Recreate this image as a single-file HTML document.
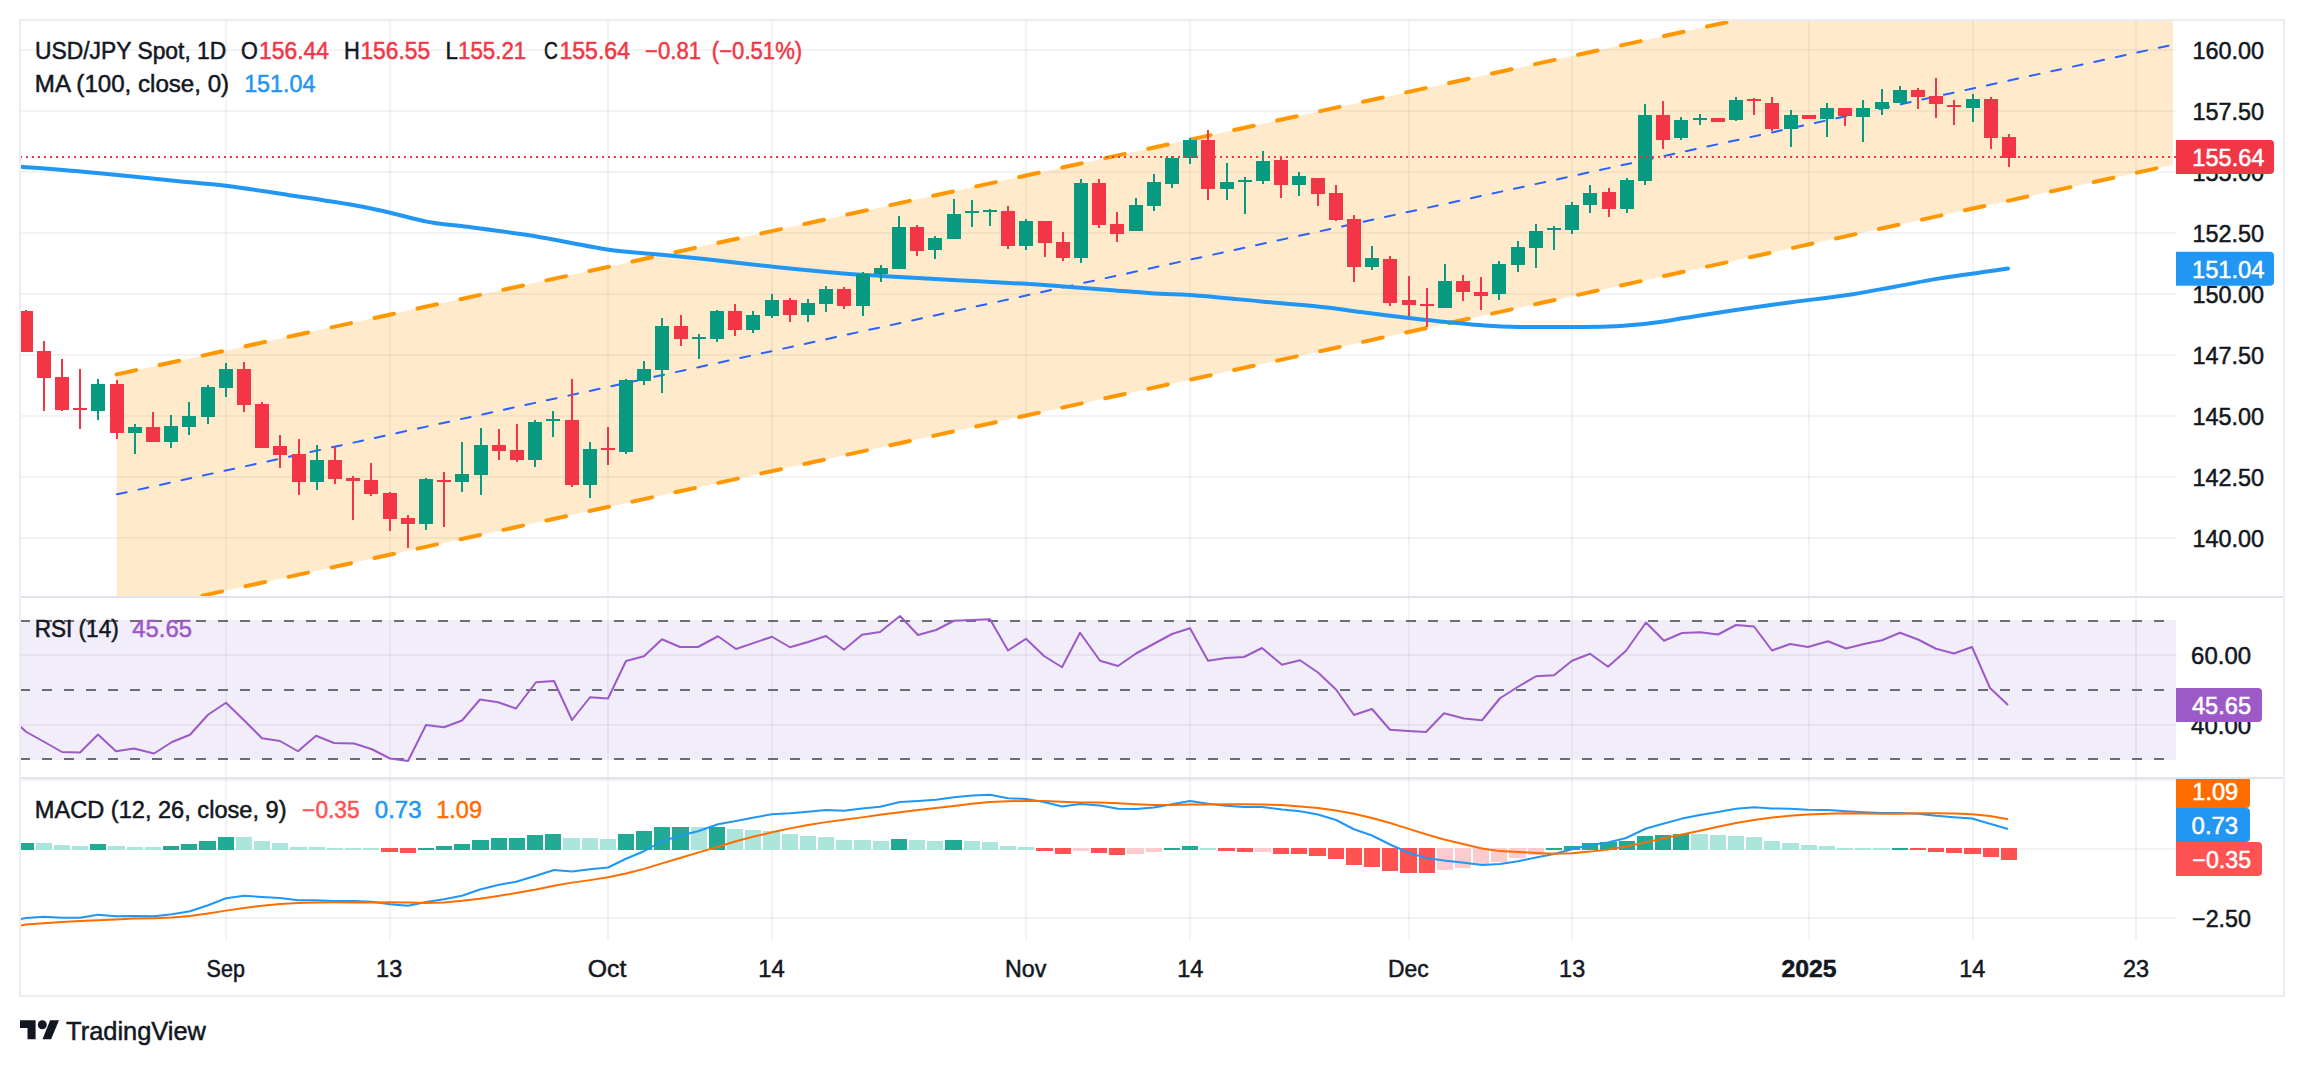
<!DOCTYPE html>
<html lang="en"><head><meta charset="utf-8"><title>USD/JPY Spot, 1D</title>
<style>html,body{margin:0;padding:0;background:#fff}body{width:2304px;height:1066px;overflow:hidden}svg{display:block}text{font-family:"Liberation Sans", sans-serif;white-space:pre}</style>
</head><body>
<svg width="2304" height="1066" viewBox="0 0 2304 1066">
<defs>
<clipPath id="cm"><rect x="21" y="21" width="2155" height="575"/></clipPath>
<clipPath id="cr"><rect x="21" y="598" width="2155" height="179"/></clipPath>
<clipPath id="cc"><rect x="21" y="779" width="2155" height="161"/></clipPath>
<clipPath id="ca"><rect x="2176" y="779" width="107" height="161"/></clipPath>
</defs>
<rect width="2304" height="1066" fill="#fff"/>
<g fill="#2A2E39" fill-opacity="0.06" shape-rendering="crispEdges">
<rect x="225" y="21" width="2" height="919"/>
<rect x="389" y="21" width="2" height="919"/>
<rect x="607" y="21" width="2" height="919"/>
<rect x="771" y="21" width="2" height="919"/>
<rect x="1025" y="21" width="2" height="919"/>
<rect x="1189" y="21" width="2" height="919"/>
<rect x="1408" y="21" width="2" height="919"/>
<rect x="1571" y="21" width="2" height="919"/>
<rect x="1808" y="21" width="2" height="919"/>
<rect x="1972" y="21" width="2" height="919"/>
<rect x="2135" y="21" width="2" height="919"/>
<rect x="21" y="49" width="2155" height="2"/>
<rect x="21" y="110" width="2155" height="2"/>
<rect x="21" y="171" width="2155" height="2"/>
<rect x="21" y="232" width="2155" height="2"/>
<rect x="21" y="293" width="2155" height="2"/>
<rect x="21" y="354" width="2155" height="2"/>
<rect x="21" y="415" width="2155" height="2"/>
<rect x="21" y="476" width="2155" height="2"/>
<rect x="21" y="537" width="2155" height="2"/>
<rect x="21" y="654" width="2155" height="2"/>
<rect x="21" y="724" width="2155" height="2"/>
<rect x="21" y="779" width="2155" height="2"/>
<rect x="21" y="848" width="2155" height="2"/>
<rect x="21" y="917" width="2155" height="2"/>
</g>
<g clip-path="url(#cm)">
<polygon points="116.6,374.38 2173,-75.35 2173,164.73 116.6,614.46" fill="#FF9800" fill-opacity="0.2"/>
<g stroke="#FF9800" stroke-width="4" stroke-linecap="round" stroke-dasharray="20 24" fill="none">
<line x1="116.6" y1="374.38" x2="2173" y2="-75.35"/>
<line x1="116.6" y1="614.46" x2="2173" y2="164.73"/>
</g>
<line x1="117" y1="494.33" x2="2170" y2="45.34" stroke="#2962FF" stroke-width="2" stroke-linecap="round" stroke-dasharray="10 12"/>
<path fill="none" stroke="#2196F3" stroke-width="4" stroke-linejoin="round" stroke-linecap="round" d="M20.4,166.7 C33.13,167.75 69.6,170.5 96.8,173 C124,175.5 162.07,179.57 183.6,181.7 C205.13,183.83 208.63,183.6 226,185.8 C243.37,188 264.2,191.25 287.8,194.9 C311.4,198.55 344.45,203.25 367.6,207.7 C390.75,212.15 411.07,218.53 426.7,221.6 C442.33,224.67 444.05,223.78 461.4,226.1 C478.75,228.42 506.5,231.62 530.8,235.5 C555.1,239.38 586.93,246.33 607.2,249.4 C627.47,252.47 636.2,252.28 652.4,253.9 C668.6,255.52 683.13,256.82 704.4,259.1 C725.67,261.38 756.85,265.22 780,267.6 C803.15,269.98 826.42,272.02 843.3,273.4 C860.18,274.78 862.3,274.77 881.3,275.9 C900.3,277.03 933.23,278.88 957.3,280.2 C981.37,281.52 1007.97,282.73 1025.7,283.8 C1043.43,284.87 1049.77,285.58 1063.7,286.6 C1077.63,287.62 1093.25,288.7 1109.3,289.9 C1125.35,291.1 1146.48,292.93 1160,293.8 C1173.52,294.67 1173.52,293.83 1190.4,295.1 C1207.28,296.37 1238.92,299.38 1261.3,301.4 C1283.68,303.42 1307.8,305.38 1324.7,307.2 C1341.6,309.02 1347.93,310.43 1362.7,312.3 C1377.47,314.17 1398.53,316.72 1413.3,318.4 C1428.07,320.08 1439.47,321.22 1451.3,322.4 C1463.13,323.58 1472.9,324.73 1484.3,325.5 C1495.7,326.27 1507.08,326.75 1519.7,327 C1532.32,327.25 1545.22,327.08 1560,327 C1574.78,326.92 1594.85,326.97 1608.4,326.5 C1621.95,326.03 1631.58,325.13 1641.3,324.2 C1651.02,323.27 1657.42,322.28 1666.7,320.9 C1675.98,319.52 1684.33,317.88 1697,315.9 C1709.67,313.92 1726.65,311.33 1742.7,309 C1758.75,306.67 1776.42,304.13 1793.3,301.9 C1810.18,299.67 1827.1,298.13 1844,295.6 C1860.9,293.07 1878.7,289.57 1894.7,286.7 C1910.7,283.83 1921.12,281.42 1940,278.4 C1958.88,275.38 1996.67,270.23 2008,268.6"/>
<g shape-rendering="crispEdges">
<rect x="25" y="310" width="2" height="42" fill="#F23645"/>
<rect x="19" y="311" width="14" height="41" fill="#F23645"/>
<rect x="43" y="341" width="2" height="70" fill="#F23645"/>
<rect x="37" y="351" width="14" height="27" fill="#F23645"/>
<rect x="61" y="359" width="2" height="52" fill="#F23645"/>
<rect x="55" y="377" width="14" height="33" fill="#F23645"/>
<rect x="79" y="369" width="2" height="60" fill="#F23645"/>
<rect x="73" y="408" width="14" height="2" fill="#F23645"/>
<rect x="97" y="379" width="2" height="41" fill="#089981"/>
<rect x="91" y="384" width="14" height="27" fill="#089981"/>
<rect x="116" y="380" width="2" height="59" fill="#F23645"/>
<rect x="110" y="384" width="14" height="49" fill="#F23645"/>
<rect x="134" y="424" width="2" height="30" fill="#089981"/>
<rect x="128" y="427" width="14" height="6" fill="#089981"/>
<rect x="152" y="412" width="2" height="30" fill="#F23645"/>
<rect x="146" y="427" width="14" height="15" fill="#F23645"/>
<rect x="170" y="415" width="2" height="33" fill="#089981"/>
<rect x="164" y="426" width="14" height="16" fill="#089981"/>
<rect x="188" y="402" width="2" height="33" fill="#089981"/>
<rect x="182" y="416" width="14" height="11" fill="#089981"/>
<rect x="207" y="385" width="2" height="39" fill="#089981"/>
<rect x="201" y="387" width="14" height="30" fill="#089981"/>
<rect x="225" y="363" width="2" height="34" fill="#089981"/>
<rect x="219" y="369" width="14" height="19" fill="#089981"/>
<rect x="243" y="362" width="2" height="50" fill="#F23645"/>
<rect x="237" y="369" width="14" height="36" fill="#F23645"/>
<rect x="261" y="402" width="2" height="46" fill="#F23645"/>
<rect x="255" y="404" width="14" height="44" fill="#F23645"/>
<rect x="279" y="435" width="2" height="33" fill="#F23645"/>
<rect x="273" y="446" width="14" height="9" fill="#F23645"/>
<rect x="298" y="439" width="2" height="56" fill="#F23645"/>
<rect x="292" y="454" width="14" height="28" fill="#F23645"/>
<rect x="316" y="445" width="2" height="45" fill="#089981"/>
<rect x="310" y="460" width="14" height="22" fill="#089981"/>
<rect x="334" y="447" width="2" height="37" fill="#F23645"/>
<rect x="328" y="460" width="14" height="19" fill="#F23645"/>
<rect x="352" y="476" width="2" height="44" fill="#F23645"/>
<rect x="346" y="478" width="14" height="3" fill="#F23645"/>
<rect x="370" y="463" width="2" height="33" fill="#F23645"/>
<rect x="364" y="480" width="14" height="14" fill="#F23645"/>
<rect x="389" y="492" width="2" height="39" fill="#F23645"/>
<rect x="383" y="493" width="14" height="26" fill="#F23645"/>
<rect x="407" y="515" width="2" height="33" fill="#F23645"/>
<rect x="401" y="518" width="14" height="6" fill="#F23645"/>
<rect x="425" y="478" width="2" height="52" fill="#089981"/>
<rect x="419" y="479" width="14" height="45" fill="#089981"/>
<rect x="443" y="472" width="2" height="55" fill="#F23645"/>
<rect x="437" y="480" width="14" height="2" fill="#F23645"/>
<rect x="461" y="442" width="2" height="50" fill="#089981"/>
<rect x="455" y="474" width="14" height="8" fill="#089981"/>
<rect x="480" y="428" width="2" height="67" fill="#089981"/>
<rect x="474" y="445" width="14" height="30" fill="#089981"/>
<rect x="498" y="429" width="2" height="31" fill="#F23645"/>
<rect x="492" y="445" width="14" height="6" fill="#F23645"/>
<rect x="516" y="424" width="2" height="38" fill="#F23645"/>
<rect x="510" y="450" width="14" height="10" fill="#F23645"/>
<rect x="534" y="420" width="2" height="47" fill="#089981"/>
<rect x="528" y="422" width="14" height="38" fill="#089981"/>
<rect x="552" y="411" width="2" height="26" fill="#089981"/>
<rect x="546" y="419" width="14" height="2" fill="#089981"/>
<rect x="571" y="379" width="2" height="108" fill="#F23645"/>
<rect x="565" y="420" width="14" height="65" fill="#F23645"/>
<rect x="589" y="442" width="2" height="56" fill="#089981"/>
<rect x="583" y="449" width="14" height="36" fill="#089981"/>
<rect x="607" y="427" width="2" height="38" fill="#F23645"/>
<rect x="601" y="448" width="14" height="2" fill="#F23645"/>
<rect x="625" y="379" width="2" height="75" fill="#089981"/>
<rect x="619" y="380" width="14" height="72" fill="#089981"/>
<rect x="643" y="361" width="2" height="24" fill="#089981"/>
<rect x="637" y="369" width="14" height="12" fill="#089981"/>
<rect x="661" y="318" width="2" height="75" fill="#089981"/>
<rect x="655" y="326" width="14" height="44" fill="#089981"/>
<rect x="680" y="315" width="2" height="31" fill="#F23645"/>
<rect x="674" y="326" width="14" height="13" fill="#F23645"/>
<rect x="698" y="334" width="2" height="25" fill="#089981"/>
<rect x="692" y="337" width="14" height="2" fill="#089981"/>
<rect x="716" y="310" width="2" height="32" fill="#089981"/>
<rect x="710" y="311" width="14" height="28" fill="#089981"/>
<rect x="734" y="304" width="2" height="32" fill="#F23645"/>
<rect x="728" y="311" width="14" height="19" fill="#F23645"/>
<rect x="752" y="311" width="2" height="22" fill="#089981"/>
<rect x="746" y="315" width="14" height="15" fill="#089981"/>
<rect x="771" y="294" width="2" height="24" fill="#089981"/>
<rect x="765" y="300" width="14" height="16" fill="#089981"/>
<rect x="789" y="298" width="2" height="24" fill="#F23645"/>
<rect x="783" y="300" width="14" height="15" fill="#F23645"/>
<rect x="807" y="299" width="2" height="23" fill="#089981"/>
<rect x="801" y="303" width="14" height="12" fill="#089981"/>
<rect x="825" y="286" width="2" height="26" fill="#089981"/>
<rect x="819" y="289" width="14" height="15" fill="#089981"/>
<rect x="843" y="287" width="2" height="22" fill="#F23645"/>
<rect x="837" y="289" width="14" height="17" fill="#F23645"/>
<rect x="862" y="272" width="2" height="44" fill="#089981"/>
<rect x="856" y="274" width="14" height="32" fill="#089981"/>
<rect x="880" y="265" width="2" height="17" fill="#089981"/>
<rect x="874" y="268" width="14" height="6" fill="#089981"/>
<rect x="898" y="216" width="2" height="53" fill="#089981"/>
<rect x="892" y="227" width="14" height="42" fill="#089981"/>
<rect x="916" y="225" width="2" height="31" fill="#F23645"/>
<rect x="910" y="227" width="14" height="24" fill="#F23645"/>
<rect x="934" y="236" width="2" height="23" fill="#089981"/>
<rect x="928" y="238" width="14" height="12" fill="#089981"/>
<rect x="953" y="199" width="2" height="40" fill="#089981"/>
<rect x="947" y="214" width="14" height="25" fill="#089981"/>
<rect x="971" y="200" width="2" height="27" fill="#089981"/>
<rect x="965" y="211" width="14" height="2" fill="#089981"/>
<rect x="989" y="209" width="2" height="17" fill="#089981"/>
<rect x="983" y="210" width="14" height="2" fill="#089981"/>
<rect x="1007" y="206" width="2" height="43" fill="#F23645"/>
<rect x="1001" y="211" width="14" height="35" fill="#F23645"/>
<rect x="1025" y="219" width="2" height="31" fill="#089981"/>
<rect x="1019" y="221" width="14" height="25" fill="#089981"/>
<rect x="1044" y="221" width="2" height="36" fill="#F23645"/>
<rect x="1038" y="221" width="14" height="22" fill="#F23645"/>
<rect x="1062" y="232" width="2" height="29" fill="#F23645"/>
<rect x="1056" y="242" width="14" height="16" fill="#F23645"/>
<rect x="1080" y="179" width="2" height="84" fill="#089981"/>
<rect x="1074" y="183" width="14" height="75" fill="#089981"/>
<rect x="1098" y="179" width="2" height="49" fill="#F23645"/>
<rect x="1092" y="183" width="14" height="42" fill="#F23645"/>
<rect x="1116" y="212" width="2" height="30" fill="#F23645"/>
<rect x="1110" y="224" width="14" height="10" fill="#F23645"/>
<rect x="1135" y="198" width="2" height="33" fill="#089981"/>
<rect x="1129" y="205" width="14" height="26" fill="#089981"/>
<rect x="1153" y="174" width="2" height="37" fill="#089981"/>
<rect x="1147" y="182" width="14" height="24" fill="#089981"/>
<rect x="1171" y="156" width="2" height="32" fill="#089981"/>
<rect x="1165" y="158" width="14" height="26" fill="#089981"/>
<rect x="1189" y="138" width="2" height="26" fill="#089981"/>
<rect x="1183" y="140" width="14" height="18" fill="#089981"/>
<rect x="1207" y="130" width="2" height="70" fill="#F23645"/>
<rect x="1201" y="140" width="14" height="49" fill="#F23645"/>
<rect x="1226" y="163" width="2" height="37" fill="#089981"/>
<rect x="1220" y="182" width="14" height="7" fill="#089981"/>
<rect x="1244" y="177" width="2" height="37" fill="#089981"/>
<rect x="1238" y="180" width="14" height="2" fill="#089981"/>
<rect x="1262" y="151" width="2" height="33" fill="#089981"/>
<rect x="1256" y="161" width="14" height="20" fill="#089981"/>
<rect x="1280" y="157" width="2" height="41" fill="#F23645"/>
<rect x="1274" y="160" width="14" height="25" fill="#F23645"/>
<rect x="1298" y="172" width="2" height="24" fill="#089981"/>
<rect x="1292" y="176" width="14" height="9" fill="#089981"/>
<rect x="1317" y="178" width="2" height="28" fill="#F23645"/>
<rect x="1311" y="178" width="14" height="16" fill="#F23645"/>
<rect x="1335" y="185" width="2" height="36" fill="#F23645"/>
<rect x="1329" y="193" width="14" height="27" fill="#F23645"/>
<rect x="1353" y="215" width="2" height="67" fill="#F23645"/>
<rect x="1347" y="219" width="14" height="48" fill="#F23645"/>
<rect x="1371" y="246" width="2" height="24" fill="#089981"/>
<rect x="1365" y="258" width="14" height="9" fill="#089981"/>
<rect x="1389" y="256" width="2" height="50" fill="#F23645"/>
<rect x="1383" y="259" width="14" height="44" fill="#F23645"/>
<rect x="1408" y="276" width="2" height="40" fill="#F23645"/>
<rect x="1402" y="300" width="14" height="5" fill="#F23645"/>
<rect x="1426" y="288" width="2" height="39" fill="#F23645"/>
<rect x="1420" y="304" width="14" height="2" fill="#F23645"/>
<rect x="1444" y="264" width="2" height="44" fill="#089981"/>
<rect x="1438" y="281" width="14" height="27" fill="#089981"/>
<rect x="1462" y="275" width="2" height="26" fill="#F23645"/>
<rect x="1456" y="281" width="14" height="11" fill="#F23645"/>
<rect x="1480" y="277" width="2" height="33" fill="#F23645"/>
<rect x="1474" y="292" width="14" height="4" fill="#F23645"/>
<rect x="1498" y="261" width="2" height="39" fill="#089981"/>
<rect x="1492" y="264" width="14" height="30" fill="#089981"/>
<rect x="1517" y="241" width="2" height="31" fill="#089981"/>
<rect x="1511" y="247" width="14" height="18" fill="#089981"/>
<rect x="1535" y="224" width="2" height="44" fill="#089981"/>
<rect x="1529" y="231" width="14" height="17" fill="#089981"/>
<rect x="1553" y="226" width="2" height="24" fill="#089981"/>
<rect x="1547" y="228" width="14" height="2" fill="#089981"/>
<rect x="1571" y="202" width="2" height="32" fill="#089981"/>
<rect x="1565" y="205" width="14" height="25" fill="#089981"/>
<rect x="1589" y="185" width="2" height="28" fill="#089981"/>
<rect x="1583" y="193" width="14" height="12" fill="#089981"/>
<rect x="1608" y="188" width="2" height="29" fill="#F23645"/>
<rect x="1602" y="192" width="14" height="17" fill="#F23645"/>
<rect x="1626" y="178" width="2" height="35" fill="#089981"/>
<rect x="1620" y="180" width="14" height="29" fill="#089981"/>
<rect x="1644" y="104" width="2" height="81" fill="#089981"/>
<rect x="1638" y="115" width="14" height="66" fill="#089981"/>
<rect x="1662" y="101" width="2" height="48" fill="#F23645"/>
<rect x="1656" y="115" width="14" height="25" fill="#F23645"/>
<rect x="1680" y="117" width="2" height="23" fill="#089981"/>
<rect x="1674" y="120" width="14" height="18" fill="#089981"/>
<rect x="1699" y="114" width="2" height="11" fill="#089981"/>
<rect x="1693" y="118" width="14" height="2" fill="#089981"/>
<rect x="1711" y="118" width="14" height="4" fill="#F23645"/>
<rect x="1735" y="97" width="2" height="24" fill="#089981"/>
<rect x="1729" y="100" width="14" height="20" fill="#089981"/>
<rect x="1753" y="98" width="2" height="17" fill="#F23645"/>
<rect x="1747" y="99" width="14" height="2" fill="#F23645"/>
<rect x="1771" y="97" width="2" height="34" fill="#F23645"/>
<rect x="1765" y="103" width="14" height="26" fill="#F23645"/>
<rect x="1790" y="110" width="2" height="37" fill="#089981"/>
<rect x="1784" y="115" width="14" height="14" fill="#089981"/>
<rect x="1802" y="115" width="14" height="4" fill="#F23645"/>
<rect x="1826" y="103" width="2" height="34" fill="#089981"/>
<rect x="1820" y="108" width="14" height="11" fill="#089981"/>
<rect x="1844" y="108" width="2" height="18" fill="#F23645"/>
<rect x="1838" y="108" width="14" height="8" fill="#F23645"/>
<rect x="1862" y="100" width="2" height="42" fill="#089981"/>
<rect x="1856" y="108" width="14" height="9" fill="#089981"/>
<rect x="1881" y="89" width="2" height="26" fill="#089981"/>
<rect x="1875" y="102" width="14" height="7" fill="#089981"/>
<rect x="1899" y="86" width="2" height="17" fill="#089981"/>
<rect x="1893" y="90" width="14" height="13" fill="#089981"/>
<rect x="1917" y="88" width="2" height="21" fill="#F23645"/>
<rect x="1911" y="90" width="14" height="7" fill="#F23645"/>
<rect x="1935" y="78" width="2" height="40" fill="#F23645"/>
<rect x="1929" y="96" width="14" height="8" fill="#F23645"/>
<rect x="1953" y="100" width="2" height="25" fill="#F23645"/>
<rect x="1947" y="105" width="14" height="2" fill="#F23645"/>
<rect x="1972" y="94" width="2" height="28" fill="#089981"/>
<rect x="1966" y="99" width="14" height="9" fill="#089981"/>
<rect x="1990" y="97" width="2" height="52" fill="#F23645"/>
<rect x="1984" y="99" width="14" height="39" fill="#F23645"/>
<rect x="2008" y="134" width="2" height="33" fill="#F23645"/>
<rect x="2002" y="137" width="14" height="21" fill="#F23645"/>
</g>
<line x1="20" y1="157" x2="2176" y2="157" stroke="#F23645" stroke-width="2" stroke-dasharray="2 4" shape-rendering="crispEdges"/>
</g>
<g clip-path="url(#cr)">
<rect x="21" y="620" width="2155" height="140" fill="#7E57C2" fill-opacity="0.1"/>
<g stroke="#6A6D78" stroke-width="2" stroke-dasharray="10 12" shape-rendering="crispEdges">
<line x1="20" y1="621" x2="2164" y2="621"/>
<line x1="20" y1="690" x2="2164" y2="690"/>
<line x1="20" y1="759" x2="2164" y2="759"/>
</g>
<polyline fill="none" stroke="#9C5AC8" stroke-width="2" stroke-linejoin="round" points="20,726.3 26,731.75 44,741.75 62,752 80,752.5 98,734.5 116,751.25 134,748.5 154,753.5 172,742 190,734.75 208,714.75 226,702.75 244,720.25 262,738.25 280,741 298,751.25 316,735.75 334,743 354,743.5 372,749.25 390,758.5 408,761 426,725 444,727.25 462,720.5 480,699.5 498,702.25 516,708.5 536,682.25 554,681 572,720 590,697.25 608,698.5 626,661 644,656.25 662,639.25 680,647 698,647 718,636.25 736,649 754,642.9 772,636.75 790,647.25 808,642 826,636 844,649.75 862,634.75 880,632 900,616 918,635 936,630 954,620.75 972,620 990,619.25 1008,650.5 1026,638.75 1044,656 1062,667.25 1080,632.75 1100,660.75 1118,666 1136,653.5 1154,643.75 1172,634 1190,628.25 1208,660.75 1226,658 1244,657 1262,648 1282,664.75 1300,660.25 1318,672.5 1336,689.5 1354,715 1372,709 1390,729.75 1408,731 1426,732 1444,713.25 1464,718.5 1482,720.25 1500,698.25 1518,686.75 1536,676.25 1554,675.25 1572,660.75 1590,653.75 1608,666.75 1626,650.75 1646,622.5 1664,640.75 1682,633 1700,632.25 1718,634.5 1736,625 1754,626.5 1772,650.5 1790,644 1808,647 1828,641.25 1846,648.5 1864,644 1882,640.25 1900,632.75 1918,639.5 1936,648.75 1954,653.5 1972,647 1990,688 2008,705"/>
</g>
<g clip-path="url(#cc)">
<g shape-rendering="crispEdges">
<rect x="18" y="843" width="16" height="7" fill="#22AB94"/>
<rect x="36" y="843" width="16" height="7" fill="#ACE5DC"/>
<rect x="54" y="845" width="16" height="5" fill="#ACE5DC"/>
<rect x="72" y="846" width="16" height="4" fill="#ACE5DC"/>
<rect x="90" y="844" width="16" height="6" fill="#22AB94"/>
<rect x="108" y="846" width="17" height="4" fill="#ACE5DC"/>
<rect x="127" y="847" width="16" height="3" fill="#ACE5DC"/>
<rect x="145" y="847" width="16" height="3" fill="#ACE5DC"/>
<rect x="163" y="846" width="16" height="4" fill="#22AB94"/>
<rect x="181" y="844" width="16" height="6" fill="#22AB94"/>
<rect x="199" y="841" width="17" height="9" fill="#22AB94"/>
<rect x="218" y="837" width="16" height="13" fill="#22AB94"/>
<rect x="236" y="837" width="16" height="13" fill="#ACE5DC"/>
<rect x="254" y="841" width="16" height="9" fill="#ACE5DC"/>
<rect x="272" y="843" width="16" height="7" fill="#ACE5DC"/>
<rect x="290" y="847" width="17" height="3" fill="#ACE5DC"/>
<rect x="309" y="847" width="16" height="3" fill="#ACE5DC"/>
<rect x="327" y="848" width="16" height="2" fill="#ACE5DC"/>
<rect x="345" y="848" width="16" height="2" fill="#ACE5DC"/>
<rect x="363" y="848" width="16" height="2" fill="#ACE5DC"/>
<rect x="381" y="848" width="17" height="4" fill="#FF5252"/>
<rect x="400" y="848" width="16" height="5" fill="#FF5252"/>
<rect x="418" y="848" width="16" height="2" fill="#22AB94"/>
<rect x="436" y="846" width="16" height="4" fill="#22AB94"/>
<rect x="454" y="844" width="16" height="6" fill="#22AB94"/>
<rect x="472" y="840" width="17" height="10" fill="#22AB94"/>
<rect x="491" y="838" width="16" height="12" fill="#22AB94"/>
<rect x="509" y="838" width="16" height="12" fill="#22AB94"/>
<rect x="527" y="835" width="16" height="15" fill="#22AB94"/>
<rect x="545" y="834" width="16" height="16" fill="#22AB94"/>
<rect x="563" y="838" width="17" height="12" fill="#ACE5DC"/>
<rect x="582" y="838" width="16" height="12" fill="#ACE5DC"/>
<rect x="600" y="839" width="16" height="11" fill="#ACE5DC"/>
<rect x="618" y="834" width="16" height="16" fill="#22AB94"/>
<rect x="636" y="831" width="16" height="19" fill="#22AB94"/>
<rect x="654" y="827" width="16" height="23" fill="#22AB94"/>
<rect x="672" y="827" width="17" height="23" fill="#22AB94"/>
<rect x="691" y="827" width="16" height="23" fill="#ACE5DC"/>
<rect x="709" y="827" width="16" height="23" fill="#22AB94"/>
<rect x="727" y="829" width="16" height="21" fill="#ACE5DC"/>
<rect x="745" y="830" width="16" height="20" fill="#ACE5DC"/>
<rect x="763" y="831" width="17" height="19" fill="#ACE5DC"/>
<rect x="782" y="834" width="16" height="16" fill="#ACE5DC"/>
<rect x="800" y="836" width="16" height="14" fill="#ACE5DC"/>
<rect x="818" y="837" width="16" height="13" fill="#ACE5DC"/>
<rect x="836" y="840" width="16" height="10" fill="#ACE5DC"/>
<rect x="854" y="840" width="17" height="10" fill="#ACE5DC"/>
<rect x="873" y="841" width="16" height="9" fill="#ACE5DC"/>
<rect x="891" y="839" width="16" height="11" fill="#22AB94"/>
<rect x="909" y="840" width="16" height="10" fill="#ACE5DC"/>
<rect x="927" y="841" width="16" height="9" fill="#ACE5DC"/>
<rect x="945" y="840" width="17" height="10" fill="#22AB94"/>
<rect x="964" y="841" width="16" height="9" fill="#ACE5DC"/>
<rect x="982" y="842" width="16" height="8" fill="#ACE5DC"/>
<rect x="1000" y="846" width="16" height="4" fill="#ACE5DC"/>
<rect x="1018" y="847" width="16" height="3" fill="#ACE5DC"/>
<rect x="1036" y="848" width="17" height="3" fill="#FF5252"/>
<rect x="1055" y="848" width="16" height="6" fill="#FF5252"/>
<rect x="1073" y="848" width="16" height="3" fill="#FCCBCD"/>
<rect x="1091" y="848" width="16" height="5" fill="#FF5252"/>
<rect x="1109" y="848" width="16" height="7" fill="#FF5252"/>
<rect x="1127" y="848" width="17" height="6" fill="#FCCBCD"/>
<rect x="1146" y="848" width="16" height="4" fill="#FCCBCD"/>
<rect x="1164" y="848" width="16" height="2" fill="#22AB94"/>
<rect x="1182" y="846" width="16" height="4" fill="#22AB94"/>
<rect x="1200" y="848" width="16" height="2" fill="#ACE5DC"/>
<rect x="1218" y="848" width="17" height="3" fill="#FF5252"/>
<rect x="1237" y="848" width="16" height="4" fill="#FF5252"/>
<rect x="1255" y="848" width="16" height="4" fill="#FCCBCD"/>
<rect x="1273" y="848" width="16" height="6" fill="#FF5252"/>
<rect x="1291" y="848" width="16" height="6" fill="#FF5252"/>
<rect x="1309" y="848" width="17" height="8" fill="#FF5252"/>
<rect x="1328" y="848" width="16" height="11" fill="#FF5252"/>
<rect x="1346" y="848" width="16" height="17" fill="#FF5252"/>
<rect x="1364" y="848" width="16" height="19" fill="#FF5252"/>
<rect x="1382" y="848" width="16" height="23" fill="#FF5252"/>
<rect x="1400" y="848" width="17" height="25" fill="#FF5252"/>
<rect x="1419" y="848" width="16" height="25" fill="#FF5252"/>
<rect x="1437" y="848" width="16" height="22" fill="#FCCBCD"/>
<rect x="1455" y="848" width="16" height="20" fill="#FCCBCD"/>
<rect x="1473" y="848" width="16" height="17" fill="#FCCBCD"/>
<rect x="1491" y="848" width="16" height="14" fill="#FCCBCD"/>
<rect x="1509" y="848" width="17" height="10" fill="#FCCBCD"/>
<rect x="1528" y="848" width="16" height="7" fill="#FCCBCD"/>
<rect x="1546" y="848" width="16" height="2" fill="#22AB94"/>
<rect x="1564" y="846" width="16" height="4" fill="#22AB94"/>
<rect x="1582" y="843" width="16" height="7" fill="#22AB94"/>
<rect x="1600" y="842" width="17" height="8" fill="#22AB94"/>
<rect x="1619" y="841" width="16" height="9" fill="#22AB94"/>
<rect x="1637" y="836" width="16" height="14" fill="#22AB94"/>
<rect x="1655" y="835" width="16" height="15" fill="#22AB94"/>
<rect x="1673" y="834" width="16" height="16" fill="#22AB94"/>
<rect x="1691" y="834" width="17" height="16" fill="#ACE5DC"/>
<rect x="1710" y="835" width="16" height="15" fill="#ACE5DC"/>
<rect x="1728" y="836" width="16" height="14" fill="#ACE5DC"/>
<rect x="1746" y="837" width="16" height="13" fill="#ACE5DC"/>
<rect x="1764" y="841" width="16" height="9" fill="#ACE5DC"/>
<rect x="1782" y="843" width="17" height="7" fill="#ACE5DC"/>
<rect x="1801" y="845" width="16" height="5" fill="#ACE5DC"/>
<rect x="1819" y="846" width="16" height="4" fill="#ACE5DC"/>
<rect x="1837" y="848" width="16" height="2" fill="#ACE5DC"/>
<rect x="1855" y="848" width="16" height="2" fill="#ACE5DC"/>
<rect x="1873" y="848" width="17" height="2" fill="#ACE5DC"/>
<rect x="1892" y="848" width="16" height="2" fill="#22AB94"/>
<rect x="1910" y="848" width="16" height="2" fill="#FF5252"/>
<rect x="1928" y="848" width="16" height="4" fill="#FF5252"/>
<rect x="1946" y="848" width="16" height="5" fill="#FF5252"/>
<rect x="1964" y="848" width="17" height="6" fill="#FF5252"/>
<rect x="1983" y="848" width="16" height="9" fill="#FF5252"/>
<rect x="2001" y="848" width="16" height="12" fill="#FF5252"/>
</g>
<polyline fill="none" stroke="#2196F3" stroke-width="2" stroke-linejoin="round" points="20,919.25 26,918 44,916.75 62,917.75 80,917.75 98,914.75 116,916.25 134,916 154,916.25 172,914.25 190,911.25 208,905.25 226,898.25 244,895.75 262,897 280,898 298,900.25 316,900.25 334,901 354,901 372,901.75 390,904.25 408,905.75 426,902 444,899.25 462,895.75 480,889.5 498,885 516,881.75 536,875.75 554,870 572,871.5 590,869.25 608,867.5 626,858.75 644,851.25 662,841.25 680,835.75 698,831.25 718,824.25 736,821 754,817.5 772,814.25 790,813.25 808,811.75 826,810 844,810.75 862,808.5 880,806.75 900,802 918,801 936,799.75 954,797.25 972,795.5 990,794.75 1008,798.25 1026,799 1044,802 1062,806.5 1080,804 1100,805.5 1118,808.75 1136,808.9 1154,807.5 1172,804.25 1190,801 1208,803.75 1226,805.75 1244,807 1262,807 1282,809.5 1300,811.25 1318,814.5 1336,820 1354,829.25 1372,835.5 1390,844.5 1408,852.5 1426,858 1444,860.5 1464,862.75 1482,865 1500,864 1518,861.25 1536,857.5 1554,854 1572,849.25 1590,845 1608,842.5 1626,838 1646,828.5 1664,823.5 1682,818.6 1700,815 1718,812 1736,808.75 1754,807.25 1772,808.5 1790,808.75 1808,809.75 1828,810 1846,811.25 1864,812.25 1882,813 1900,813 1918,813.75 1936,815.75 1954,817.25 1972,818.5 1990,823.75 2008,829"/>
<polyline fill="none" stroke="#FF6D00" stroke-width="2" stroke-linejoin="round" points="20,925.75 26,924.5 44,923.25 62,922.06 80,921.06 98,920.25 116,919.38 134,918.62 154,918.19 172,917.5 190,916 208,913.5 226,910.62 244,907.94 262,905.69 280,904.06 298,902.94 316,902.44 334,902.31 354,902.44 372,902.5 390,902.25 408,902.56 426,903 444,902.38 462,900.81 480,898.69 498,896.06 516,893.06 536,889.56 554,885.75 572,882.62 590,880.12 608,877.25 626,873.56 644,868.88 662,863.38 680,858 698,852.62 718,846.69 736,841.19 754,836.56 772,832.31 790,828.38 808,824.94 826,822.12 844,819.75 862,817.38 880,814.75 900,812.19 918,809.94 936,807.94 954,805.94 972,803.75 990,802.06 1008,801.31 1026,800.94 1044,801 1062,801.81 1080,802.44 1100,802.56 1118,803.16 1136,804.2 1154,805.04 1172,805.12 1190,804.62 1208,804.38 1226,804.25 1244,804.25 1262,804.5 1282,805.12 1300,806.38 1318,808.06 1336,810.44 1354,813.75 1372,817.94 1390,823 1408,828.62 1426,834.25 1444,839.44 1464,844.31 1482,848.56 1500,851.12 1518,852.06 1536,852.88 1554,853.75 1572,853.19 1590,851.62 1608,849.62 1626,846.44 1646,842.38 1664,838.27 1682,834.42 1700,830.65 1718,826.69 1736,822.94 1754,819.94 1772,817.5 1790,815.69 1808,814.56 1828,813.75 1846,813.25 1864,813.38 1882,813.81 1900,813.75 1918,813.31 1936,813.31 1954,813.62 1972,814.31 1990,816 2008,819.3"/>
</g>
<text x="35.07" y="58.8" font-size="23.3" fill="#131722" stroke="#131722" stroke-width="0.5" textLength="191.22" lengthAdjust="spacingAndGlyphs">USD/JPY Spot, 1D</text>
<text x="240.98" y="58.8" font-size="23.3" fill="#131722" stroke="#131722" stroke-width="0.5" textLength="16.82" lengthAdjust="spacingAndGlyphs">O</text>
<text x="259.12" y="58.8" font-size="23.3" fill="#F23645" stroke="#F23645" stroke-width="0.5" textLength="69.96" lengthAdjust="spacingAndGlyphs">156.44</text>
<text x="343.97" y="58.8" font-size="23.3" fill="#131722" stroke="#131722" stroke-width="0.5" textLength="15.79" lengthAdjust="spacingAndGlyphs">H</text>
<text x="360.4" y="58.8" font-size="23.3" fill="#F23645" stroke="#F23645" stroke-width="0.5" textLength="69.87" lengthAdjust="spacingAndGlyphs">156.55</text>
<text x="445.44" y="58.8" font-size="23.3" fill="#131722" stroke="#131722" stroke-width="0.5" textLength="12.38" lengthAdjust="spacingAndGlyphs">L</text>
<text x="458.06" y="58.8" font-size="23.3" fill="#F23645" stroke="#F23645" stroke-width="0.5" textLength="68.15" lengthAdjust="spacingAndGlyphs">155.21</text>
<text x="543.99" y="58.8" font-size="23.3" fill="#131722" stroke="#131722" stroke-width="0.5" textLength="13.88" lengthAdjust="spacingAndGlyphs">C</text>
<text x="559.43" y="58.8" font-size="23.3" fill="#F23645" stroke="#F23645" stroke-width="0.5" textLength="70.62" lengthAdjust="spacingAndGlyphs">155.64</text>
<text x="645.04" y="58.8" font-size="23.3" fill="#F23645" stroke="#F23645" stroke-width="0.5" textLength="56.01" lengthAdjust="spacingAndGlyphs">−0.81</text>
<text x="711.87" y="58.8" font-size="23.3" fill="#F23645" stroke="#F23645" stroke-width="0.5" textLength="90.29" lengthAdjust="spacingAndGlyphs">(−0.51%)</text>
<text x="34.83" y="92.3" font-size="23.3" fill="#131722" stroke="#131722" stroke-width="0.5" textLength="194.3" lengthAdjust="spacingAndGlyphs">MA (100, close, 0)</text>
<text x="244.13" y="92.3" font-size="23.3" fill="#2196F3" stroke="#2196F3" stroke-width="0.5" textLength="71.28" lengthAdjust="spacingAndGlyphs">151.04</text>
<text x="34.73" y="636.8" font-size="23.3" fill="#131722" stroke="#131722" stroke-width="0.5" textLength="83.98" lengthAdjust="spacingAndGlyphs">RSI (14)</text>
<text x="132.28" y="636.8" font-size="23.3" fill="#9C5AC8" stroke="#9C5AC8" stroke-width="0.5" textLength="59.66" lengthAdjust="spacingAndGlyphs">45.65</text>
<text x="34.74" y="817.5" font-size="23.3" fill="#131722" stroke="#131722" stroke-width="0.5" textLength="251.81" lengthAdjust="spacingAndGlyphs">MACD (12, 26, close, 9)</text>
<text x="302.1" y="817.5" font-size="23.3" fill="#FF5252" stroke="#FF5252" stroke-width="0.5" textLength="57.56" lengthAdjust="spacingAndGlyphs">−0.35</text>
<text x="374.78" y="817.5" font-size="23.3" fill="#2196F3" stroke="#2196F3" stroke-width="0.5" textLength="46.82" lengthAdjust="spacingAndGlyphs">0.73</text>
<text x="436.17" y="817.5" font-size="23.3" fill="#FF6D00" stroke="#FF6D00" stroke-width="0.5" textLength="45.92" lengthAdjust="spacingAndGlyphs">1.09</text>
<g fill="#e0e3eb" shape-rendering="crispEdges">
<rect x="21" y="596" width="2262" height="2"/>
<rect x="21" y="777" width="2262" height="2"/>
</g>
<rect x="20" y="20" width="2264" height="976" fill="none" stroke="#ebedf2" stroke-width="2"/>
<text x="206.62" y="976.6" font-size="23.3" fill="#131722" stroke="#131722" stroke-width="0.5" textLength="38.25" lengthAdjust="spacingAndGlyphs">Sep</text>
<text x="376.14" y="976.6" font-size="23.3" fill="#131722" stroke="#131722" stroke-width="0.5" textLength="26.05" lengthAdjust="spacingAndGlyphs">13</text>
<text x="587.82" y="976.6" font-size="23.3" fill="#131722" stroke="#131722" stroke-width="0.5" textLength="38.54" lengthAdjust="spacingAndGlyphs">Oct</text>
<text x="758.33" y="976.6" font-size="23.3" fill="#131722" stroke="#131722" stroke-width="0.5" textLength="26.45" lengthAdjust="spacingAndGlyphs">14</text>
<text x="1005.06" y="976.6" font-size="23.3" fill="#131722" stroke="#131722" stroke-width="0.5" textLength="41.37" lengthAdjust="spacingAndGlyphs">Nov</text>
<text x="1177.2" y="976.6" font-size="23.3" fill="#131722" stroke="#131722" stroke-width="0.5" textLength="26.09" lengthAdjust="spacingAndGlyphs">14</text>
<text x="1388" y="976.6" font-size="23.3" fill="#131722" stroke="#131722" stroke-width="0.5" textLength="40.67" lengthAdjust="spacingAndGlyphs">Dec</text>
<text x="1559.14" y="976.6" font-size="23.3" fill="#131722" stroke="#131722" stroke-width="0.5" textLength="26.05" lengthAdjust="spacingAndGlyphs">13</text>
<text x="1781.44" y="976.6" font-size="23.3" fill="#131722" stroke="#131722" stroke-width="0.5" font-weight="bold" textLength="55.18" lengthAdjust="spacingAndGlyphs">2025</text>
<text x="1959.2" y="976.6" font-size="23.3" fill="#131722" stroke="#131722" stroke-width="0.5" textLength="26.09" lengthAdjust="spacingAndGlyphs">14</text>
<text x="2122.98" y="976.6" font-size="23.3" fill="#131722" stroke="#131722" stroke-width="0.5" textLength="26.08" lengthAdjust="spacingAndGlyphs">23</text>
<text x="66.11" y="1039.7" font-size="25.5" fill="#131722" stroke="#131722" stroke-width="0.5" textLength="139.87" lengthAdjust="spacingAndGlyphs">TradingView</text>
<text x="2191.14" y="663.9" font-size="23.3" fill="#131722" stroke="#131722" stroke-width="0.5" textLength="59.9" lengthAdjust="spacingAndGlyphs">60.00</text>
<text x="2191.14" y="733.9" font-size="23.3" fill="#131722" stroke="#131722" stroke-width="0.5" textLength="59.9" lengthAdjust="spacingAndGlyphs">40.00</text>
<text x="2192.12" y="926.9" font-size="23.3" fill="#131722" stroke="#131722" stroke-width="0.5" textLength="58.84" lengthAdjust="spacingAndGlyphs">−2.50</text>
<text x="2192.49" y="58.9" font-size="23.3" fill="#131722" stroke="#131722" stroke-width="0.5" textLength="71.58" lengthAdjust="spacingAndGlyphs">160.00</text>
<text x="2192.49" y="119.9" font-size="23.3" fill="#131722" stroke="#131722" stroke-width="0.5" textLength="71.58" lengthAdjust="spacingAndGlyphs">157.50</text>
<text x="2192.49" y="241.9" font-size="23.3" fill="#131722" stroke="#131722" stroke-width="0.5" textLength="71.58" lengthAdjust="spacingAndGlyphs">152.50</text>
<text x="2192.49" y="302.9" font-size="23.3" fill="#131722" stroke="#131722" stroke-width="0.5" textLength="71.58" lengthAdjust="spacingAndGlyphs">150.00</text>
<text x="2192.49" y="363.9" font-size="23.3" fill="#131722" stroke="#131722" stroke-width="0.5" textLength="71.58" lengthAdjust="spacingAndGlyphs">147.50</text>
<text x="2192.49" y="424.9" font-size="23.3" fill="#131722" stroke="#131722" stroke-width="0.5" textLength="71.58" lengthAdjust="spacingAndGlyphs">145.00</text>
<text x="2192.49" y="485.9" font-size="23.3" fill="#131722" stroke="#131722" stroke-width="0.5" textLength="71.58" lengthAdjust="spacingAndGlyphs">142.50</text>
<text x="2192.49" y="546.9" font-size="23.3" fill="#131722" stroke="#131722" stroke-width="0.5" textLength="71.58" lengthAdjust="spacingAndGlyphs">140.00</text>
<text x="2192.49" y="180.9" font-size="23.3" fill="#131722" stroke="#131722" stroke-width="0.5" textLength="71.58" lengthAdjust="spacingAndGlyphs">155.00</text>
<g>
<path d="M2176,140 H2270 a4,4 0 0 1 4,4 V170 a4,4 0 0 1 -4,4 H2176 Z" fill="#F23645"/>
<text x="2192.37" y="165.9" font-size="23.3" fill="#FFFFFF" stroke="#FFFFFF" stroke-width="0.5" textLength="72.06" lengthAdjust="spacingAndGlyphs">155.64</text>
</g>
<g>
<path d="M2176,251.7 H2270 a4,4 0 0 1 4,4 V281.7 a4,4 0 0 1 -4,4 H2176 Z" fill="#2196F3"/>
<text x="2191.99" y="277.6" font-size="23.3" fill="#FFFFFF" stroke="#FFFFFF" stroke-width="0.5" textLength="72.43" lengthAdjust="spacingAndGlyphs">151.04</text>
</g>
<g>
<path d="M2176,688 H2258 a4,4 0 0 1 4,4 V718 a4,4 0 0 1 -4,4 H2176 Z" fill="#9C5AC8"/>
<text x="2191.96" y="713.9" font-size="23.3" fill="#FFFFFF" stroke="#FFFFFF" stroke-width="0.5" textLength="59.13" lengthAdjust="spacingAndGlyphs">45.65</text>
</g>
<g clip-path="url(#ca)">
<path d="M2176,774 H2246 a4,4 0 0 1 4,4 V804 a4,4 0 0 1 -4,4 H2176 Z" fill="#FF6D00"/>
<text x="2192.23" y="799.9" font-size="23.3" fill="#FFFFFF" stroke="#FFFFFF" stroke-width="0.5" textLength="46.06" lengthAdjust="spacingAndGlyphs">1.09</text>
</g>
<g>
<path d="M2176,808 H2246 a4,4 0 0 1 4,4 V838 a4,4 0 0 1 -4,4 H2176 Z" fill="#2196F3"/>
<text x="2191.57" y="833.5" font-size="23.3" fill="#FFFFFF" stroke="#FFFFFF" stroke-width="0.5" textLength="46.64" lengthAdjust="spacingAndGlyphs">0.73</text>
</g>
<g>
<path d="M2176,842 H2258 a4,4 0 0 1 4,4 V872 a4,4 0 0 1 -4,4 H2176 Z" fill="#FF5252"/>
<text x="2192.34" y="867.5" font-size="23.3" fill="#FFFFFF" stroke="#FFFFFF" stroke-width="0.5" textLength="58.72" lengthAdjust="spacingAndGlyphs">−0.35</text>
</g>
<g fill="#131722">
<path d="M20,1020.3 H35.6 V1039.2 H27.5 V1027.9 H20 Z"/>
<circle cx="42.3" cy="1024.7" r="4.5"/>
<path d="M50.1,1020.3 H59 L51.1,1039.2 H42.5 Z"/>
</g>
</svg>
</body></html>
